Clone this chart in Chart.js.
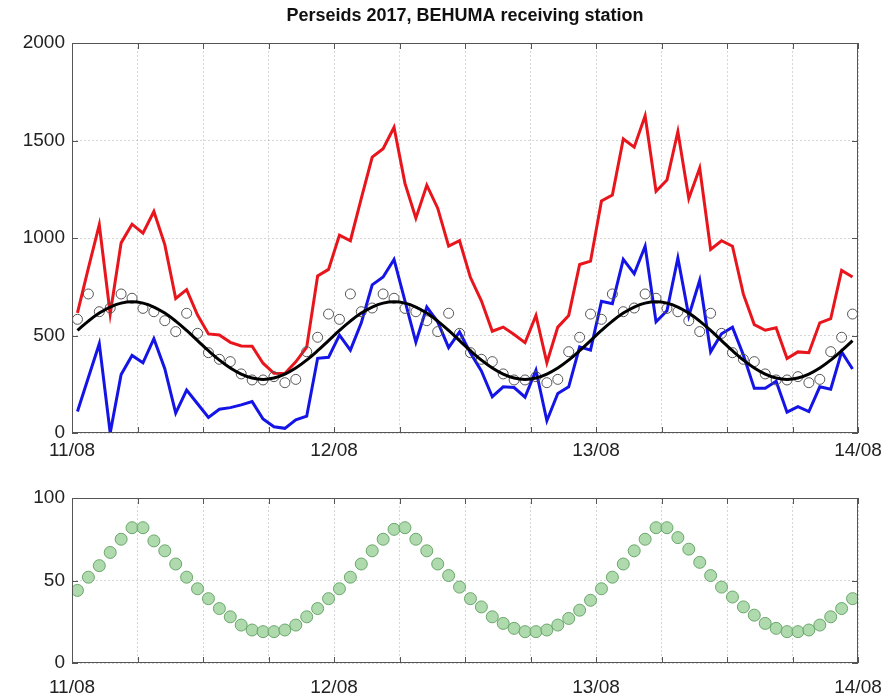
<!DOCTYPE html>
<html>
<head>
<meta charset="utf-8">
<script src="https://cdn.jsdelivr.net/npm/chart.js@4.4.1/dist/chart.umd.min.js"></script>
<style>
  body { margin: 0; background: #fff; }
  #top { position: absolute; left: 0; top: 0; }
  #bottom { position: absolute; left: 0; top: 470px; }
</style>
</head>
<body>
<canvas id="top" width="896" height="470"></canvas>
<canvas id="bottom" width="896" height="228"></canvas>
<script>
// dias del eje x (cada 24 horas)
const dias = ["11/08", "12/08", "13/08", "14/08"];
const tituloGrafica = "Perseids 2017, BEHUMA receiving station";

// cuentas por hora (72 horas, desde 11/08 00:30)
const rojo = [616, 845, 1068, 610, 975, 1071, 1025, 1136, 966, 690, 735, 605,
  508, 503, 465, 446, 445, 358, 306, 305, 365, 440, 805, 839,
  1015, 986, 1203, 1415, 1458, 1568, 1280, 1102, 1271, 1153, 958, 986,
  797, 678, 522, 543, 505, 463, 603, 360, 543, 603, 864, 881,
  1190, 1220, 1508, 1466, 1627, 1240, 1297, 1546, 1203, 1359, 941, 986,
  958, 712, 556, 527, 540, 382, 416, 412, 565, 586, 834, 800];

const azul = [110, 285, 458, 0, 300, 398, 360, 484, 330, 102, 220, 150,
  80, 122, 130, 144, 161, 72, 32, 24, 67, 86, 383, 388,
  502, 425, 565, 760, 800, 890, 678, 466, 646, 570, 438, 518,
  410, 318, 186, 237, 233, 184, 322, 63, 203, 237, 442, 425,
  676, 663, 890, 817, 958, 570, 627, 898, 600, 783, 416, 509,
  543, 400, 229, 229, 265, 107, 135, 110, 237, 225, 416, 328];

const circulos = [583, 713, 622, 641, 713, 691, 639, 622, 576, 520, 614, 511,
  412, 378, 366, 303, 272, 272, 289, 258, 275, 417, 491, 610,
  583, 713, 622, 641, 713, 691, 639, 622, 576, 520, 614, 511,
  412, 378, 366, 303, 272, 272, 289, 258, 275, 417, 491, 610,
  583, 713, 622, 641, 713, 691, 639, 622, 576, 520, 614, 511,
  412, 378, 366, 303, 272, 272, 289, 258, 275, 417, 491, 610];

const ajuste = [526, 574, 615, 646, 666, 673, 666, 646, 615, 574, 526, 474,
  422, 374, 333, 302, 282, 275, 282, 302, 333, 374, 422, 474,
  526, 574, 615, 646, 666, 673, 666, 646, 615, 574, 526, 474,
  422, 374, 333, 302, 282, 275, 282, 302, 333, 374, 422, 474,
  526, 574, 615, 646, 666, 673, 666, 646, 615, 574, 526, 474,
  422, 374, 333, 302, 282, 275, 282, 302, 333, 374, 422, 474];

// elevacion del radiante
const elevacion = [44, 52, 59, 67, 75, 82, 82, 74, 68, 60, 52, 45,
  39, 33, 28, 23, 20, 19, 19, 20, 23, 28, 33, 39,
  45, 52, 60, 68, 75, 81, 82, 75, 68, 60, 53, 46,
  39, 34, 28, 24, 21, 19, 19, 20, 23, 27, 32, 38,
  45, 52, 60, 68, 75, 82, 82, 76, 69, 61, 53, 46,
  40, 34, 29, 24, 21, 19, 19, 20, 23, 28, 33, 39];

const fuente = "'Liberation Sans', Arial, sans-serif";

function puntos(arr) {
  return arr.map((v, i) => ({ x: i + 0.5, y: v }));
}

// marco y marcas hacia dentro, estilo matlab
const marco = {
  id: "marco",
  afterDraw(chart) {
    const { ctx, chartArea: a, scales } = chart;
    ctx.save();
    ctx.strokeStyle = "#555";
    ctx.lineWidth = 1;
    ctx.strokeRect(Math.round(a.left) + 0.5, Math.round(a.top) + 0.5,
      Math.round(a.width) - 1, Math.round(a.height) - 1);
    ctx.beginPath();
    for (const t of scales.x.ticks) {
      const px = Math.round(scales.x.getPixelForValue(t.value)) + 0.5;
      ctx.moveTo(px, a.top); ctx.lineTo(px, a.top + 6);
      ctx.moveTo(px, a.bottom); ctx.lineTo(px, a.bottom - 6);
    }
    for (const t of scales.y.ticks) {
      const py = Math.round(scales.y.getPixelForValue(t.value)) + 0.5;
      ctx.moveTo(a.left, py); ctx.lineTo(a.left + 6, py);
      ctx.moveTo(a.right, py); ctx.lineTo(a.right - 6, py);
    }
    ctx.stroke();
    ctx.restore();
  }
};

// titulo centrado sobre el area de la grafica (no sobre el canvas)
const titulo = {
  id: "titulo",
  afterDraw(chart, args, opts) {
    if (!opts.text) return;
    const { ctx, chartArea: a } = chart;
    ctx.save();
    ctx.fillStyle = "#111";
    ctx.font = "bold 18px " + fuente;
    ctx.textAlign = "center";
    ctx.textBaseline = "middle";
    ctx.fillText(opts.text, (a.left + a.right) / 2, 16);
    ctx.restore();
  }
};

function ejeX(padding, alto) {
  return {
    type: "linear",
    min: 0,
    max: 72,
    afterFit: (s) => { s.height = alto; },
    ticks: {
      stepSize: 6,
      autoSkip: false,
      maxRotation: 0,
      padding: padding,
      color: "#222",
      font: { family: fuente, size: 19 },
      callback: (v) => (v % 24 === 0 ? dias[v / 24] : "")
    },
    grid: { color: "rgba(0,0,0,0.16)", drawTicks: false },
    border: { display: false, dash: [2, 2] }
  };
}

function ejeY(max, paso) {
  return {
    min: 0,
    max: max,
    afterFit: (s) => { s.width = 72; },
    ticks: {
      stepSize: paso,
      padding: 7,
      color: "#222",
      font: { family: fuente, size: 19 },
      callback: (v) => String(v)
    },
    grid: { color: "rgba(0,0,0,0.16)", drawTicks: false },
    border: { display: false, dash: [2, 2] }
  };
}

new Chart(document.getElementById("top"), {
  type: "line",
  data: {
    datasets: [
      { data: puntos(ajuste), borderColor: "#000", borderWidth: 3, pointRadius: 0, tension: 0.4 },
      { data: puntos(circulos), showLine: false, pointRadius: 5, pointBorderWidth: 1,
        pointBorderColor: "#555", pointBackgroundColor: "rgba(0,0,0,0)" },
      { data: puntos(azul), borderColor: "#1414e6", borderWidth: 3, pointRadius: 0, tension: 0 },
      { data: puntos(rojo), borderColor: "#e8161c", borderWidth: 3, pointRadius: 0, tension: 0 }
    ]
  },
  options: {
    responsive: false,
    animation: false,
    layout: { padding: { left: 0, right: 38, top: 43, bottom: 0 } },
    plugins: {
      legend: { display: false },
      tooltip: { enabled: false },
      titulo: { text: tituloGrafica }
    },
    scales: { x: ejeX(6, 37), y: ejeY(2000, 500) }
  },
  plugins: [marco, titulo]
});

new Chart(document.getElementById("bottom"), {
  type: "scatter",
  data: {
    datasets: [
      { data: puntos(elevacion), pointRadius: 6, pointBorderWidth: 1,
        pointBorderColor: "rgba(95,160,95,0.9)", pointBackgroundColor: "rgba(160,212,160,0.85)" }
    ]
  },
  options: {
    responsive: false,
    animation: false,
    layout: { padding: { left: 0, right: 38, top: 28, bottom: 0 } },
    plugins: { legend: { display: false }, tooltip: { enabled: false } },
    scales: { x: ejeX(13, 35), y: ejeY(100, 50) }
  },
  plugins: [marco]
});
</script>
</body>
</html>
